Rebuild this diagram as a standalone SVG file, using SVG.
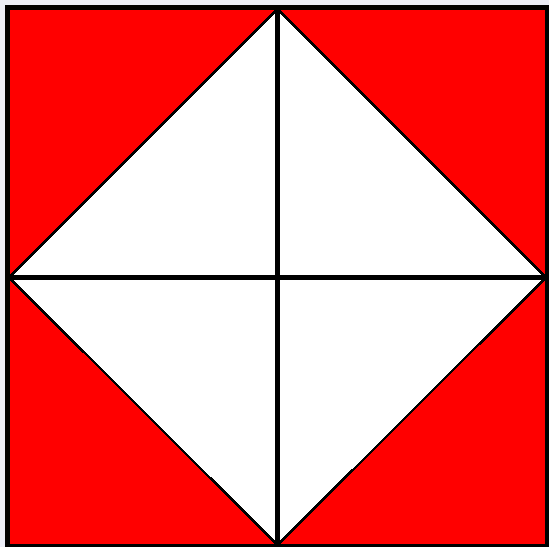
<svg xmlns="http://www.w3.org/2000/svg" width="549" height="547" viewBox="0 0 549 547">
  <style>
    .bg { fill: #eceef7; }
    .red { fill: #ff0000; }
    .diamond { fill: #ffffff; stroke: #000000; stroke-width: 2.5; }
    .line { stroke: #000000; stroke-width: 5; fill: none; }
    .frame { fill: none; stroke: #000000; stroke-width: 5; }
  </style>
  <rect class="bg" x="0" y="0" width="549" height="547"/>
  <g id="square">
    <rect class="red" x="7.5" y="7.5" width="540" height="539"/>
  </g>
  <g id="diamond" shape-rendering="crispEdges">
    <polygon class="diamond" points="277.5,9 9,277.5 277.5,545 546,277.5"/>
  </g>
  <g id="connectors" shape-rendering="crispEdges">
    <line class="line" x1="277.5" y1="7" x2="277.5" y2="547"/>
    <line class="line" x1="7" y1="277.5" x2="549" y2="277.5"/>
  </g>
  <g id="frame" shape-rendering="crispEdges">
    <rect class="frame" x="7.5" y="7.5" width="540" height="539"/>
  </g>
</svg>
